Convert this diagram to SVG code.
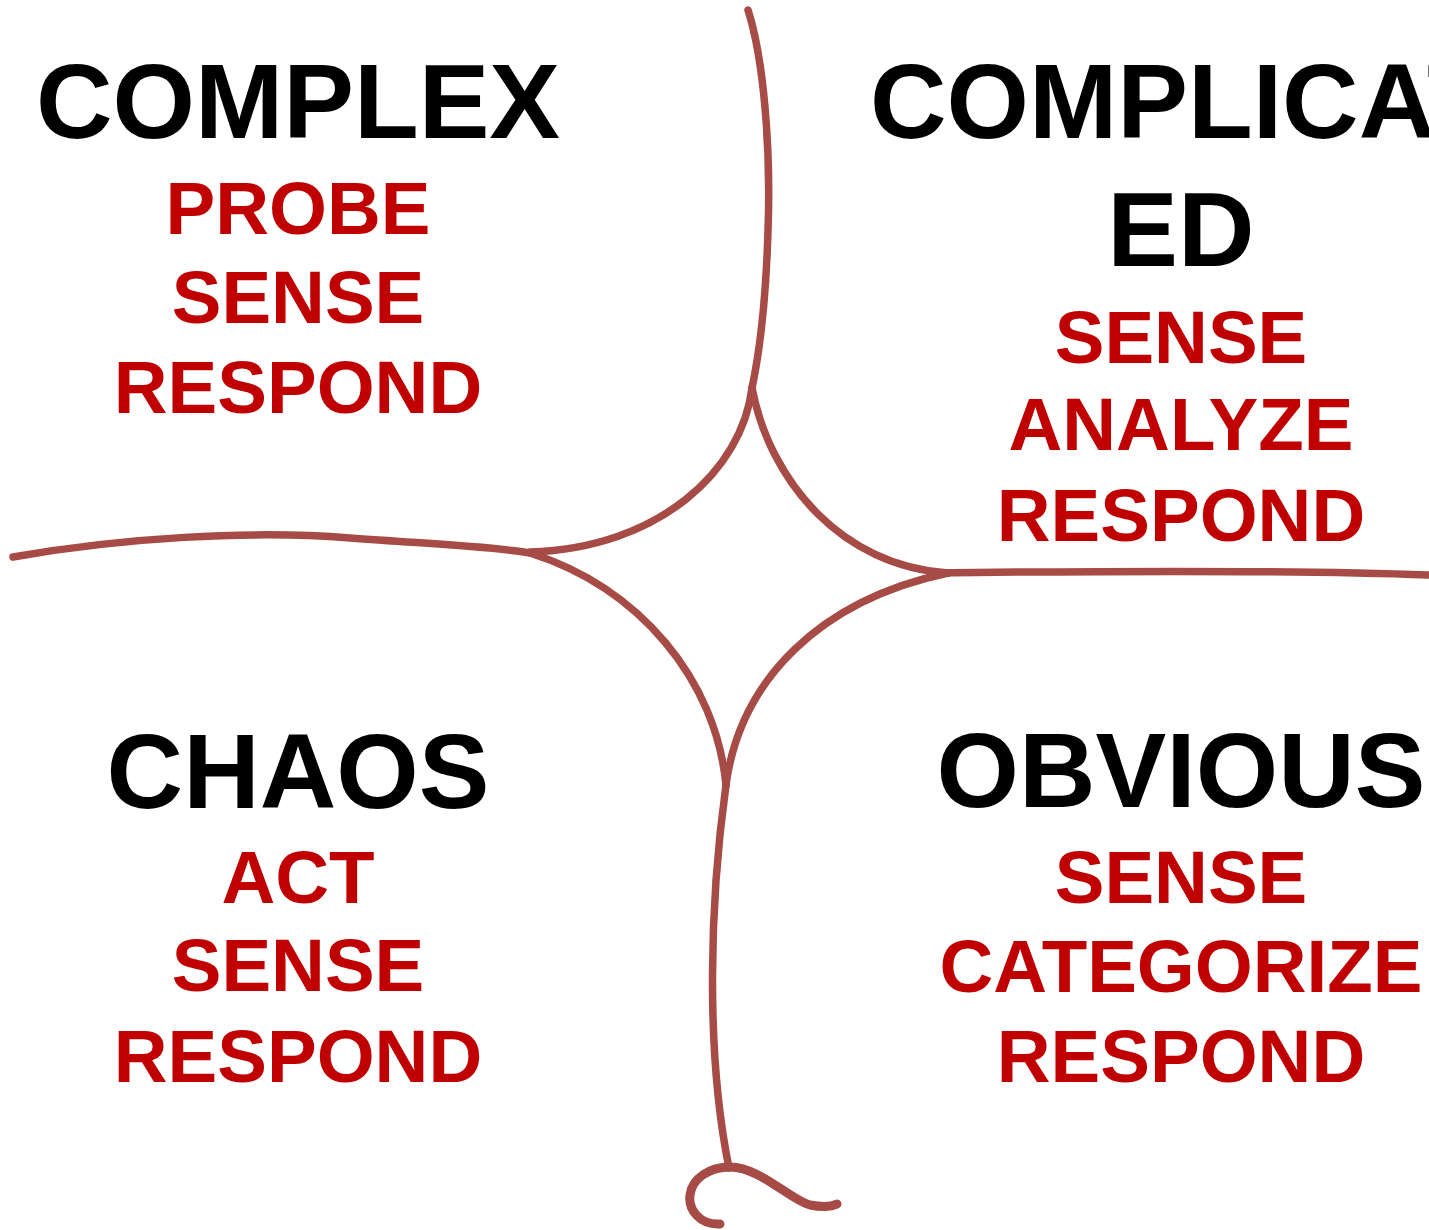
<svg xmlns="http://www.w3.org/2000/svg" width="1429" height="1230" viewBox="0 0 1429 1230">
<style>
.t{font-family:"Liberation Sans",Arial,sans-serif;font-weight:bold;text-anchor:middle}
.h{font-size:106px;fill:#000}
.s{font-size:74.5px;fill:#c00000}
.ln{fill:none;stroke:#a64b45;stroke-width:7.5;stroke-linecap:round;stroke-linejoin:round}
</style>
<rect width="1429" height="1230" fill="#fff"/>
<g id="connectors">
<path class="ln" d="M748,10 C764,60 771,150 768,230 C766,300 760,350 752,388"/>
<path class="ln" d="M752,388 C742,470 660,548 530,552"/>
<path class="ln" d="M752,388 C770,482 842,566 948,573"/>
<path class="ln" d="M13,557 C120,538 250,530 350,538 C430,544 490,546 530,553"/>
<path class="ln" d="M530,553 C640,588 716,680 726,785"/>
<path class="ln" d="M948,573 C820,600 740,680 726,785"/>
<path class="ln" d="M930,573 C1100,571 1300,570 1428,575"/>
<path class="ln" d="M726,785 C710,900 705,1050 729,1168"/>
<path class="ln" style="stroke-width:9" d="M720,1224 C700,1225 688,1210 690,1195 C692,1178 710,1167 730,1167 C760,1167 790,1200 810,1205 C825,1208 833,1206 837,1204"/>
</g>
<g id="complex">
<text class="t h" x="298" y="138">COMPLEX</text>
<text class="t s" x="298" y="234">PROBE</text>
<text class="t s" x="298" y="323">SENSE</text>
<text class="t s" x="298" y="413">RESPOND</text>
</g>
<g id="complicated">
<text class="t h" x="1181" y="138">COMPLICAT</text>
<text class="t h" x="1181" y="266">ED</text>
<text class="t s" x="1181" y="363">SENSE</text>
<text class="t s" x="1181" y="450">ANALYZE</text>
<text class="t s" x="1181" y="541">RESPOND</text>
</g>
<g id="chaos">
<text class="t h" x="298" y="808">CHAOS</text>
<text class="t s" x="298" y="903">ACT</text>
<text class="t s" x="298" y="991">SENSE</text>
<text class="t s" x="298" y="1082">RESPOND</text>
</g>
<g id="obvious">
<text class="t h" x="1181" y="807">OBVIOUS</text>
<text class="t s" x="1181" y="903">SENSE</text>
<text class="t s" x="1181" y="992">CATEGORIZE</text>
<text class="t s" x="1181" y="1082">RESPOND</text>
</g>
</svg>
